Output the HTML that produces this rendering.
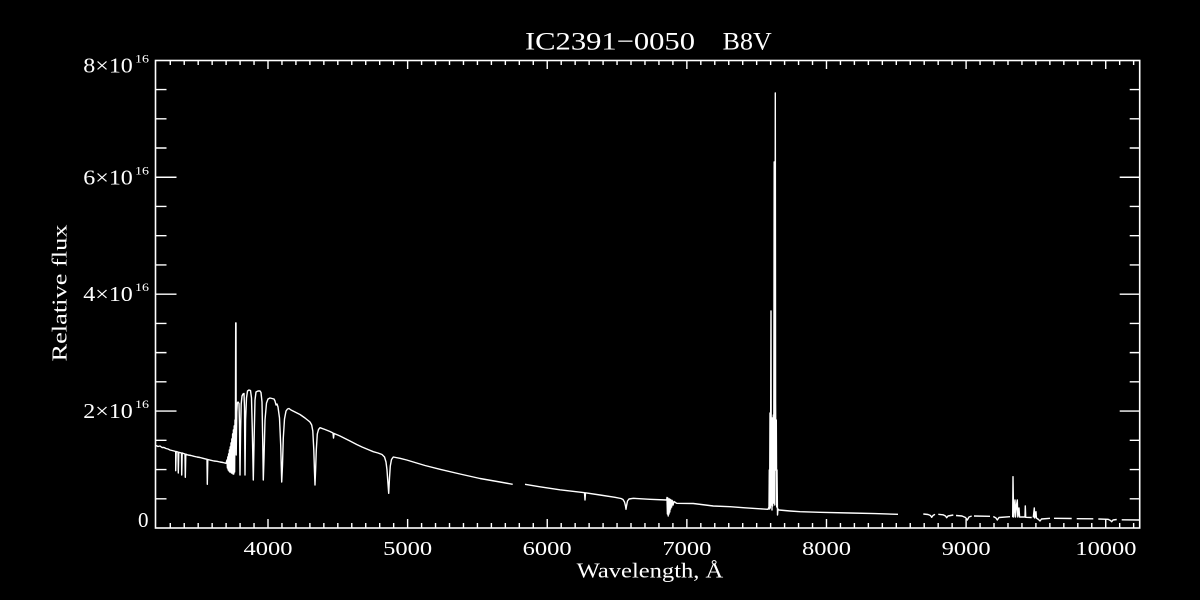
<!DOCTYPE html>
<html>
<head>
<meta charset="utf-8">
<style>
html,body{margin:0;padding:0;background:#000;}
svg{display:block;}
text{fill:#fff;font-family:"Liberation Serif",serif;}
</style>
</head>
<body>
<svg width="1200" height="600" viewBox="0 0 1200 600" xmlns="http://www.w3.org/2000/svg">
<rect x="0" y="0" width="1200" height="600" fill="#000"/>

<!-- title -->
<text x="525" y="49.3" font-size="25" textLength="170" lengthAdjust="spacingAndGlyphs">IC2391−0050</text>
<text x="722.7" y="49.3" font-size="25" textLength="49" lengthAdjust="spacingAndGlyphs">B8V</text>

<!-- axis box -->
<rect x="155.5" y="60.5" width="984.2" height="467.5" fill="none" stroke="#fff" stroke-width="1.6"/>

<!-- x ticks bottom/top -->
<path fill="none" stroke="#fff" stroke-width="1.4" d="
M170.27,528v-5 M184.23,528v-5 M198.19,528v-5 M212.15,528v-5 M226.11,528v-5 M240.08,528v-5 M254.04,528v-5 M268,528v-9
M281.96,528v-5 M295.92,528v-5 M309.89,528v-5 M323.85,528v-5 M337.81,528v-5 M351.77,528v-5 M365.73,528v-5 M379.7,528v-5 M393.66,528v-5 M407.62,528v-9
M421.58,528v-5 M435.54,528v-5 M449.51,528v-5 M463.47,528v-5 M477.43,528v-5 M491.39,528v-5 M505.35,528v-5 M519.32,528v-5 M533.28,528v-5 M547.24,528v-9
M561.2,528v-5 M575.16,528v-5 M589.13,528v-5 M603.09,528v-5 M617.05,528v-5 M631.01,528v-5 M644.97,528v-5 M658.94,528v-5 M672.9,528v-5 M686.86,528v-9
M700.82,528v-5 M714.78,528v-5 M728.75,528v-5 M742.71,528v-5 M756.67,528v-5 M770.63,528v-5 M784.59,528v-5 M798.56,528v-5 M812.52,528v-5 M826.48,528v-9
M840.44,528v-5 M854.4,528v-5 M868.37,528v-5 M882.33,528v-5 M896.29,528v-5 M910.25,528v-5 M924.21,528v-5 M938.18,528v-5 M952.14,528v-5 M966.1,528v-9
M980.06,528v-5 M994.02,528v-5 M1007.99,528v-5 M1021.95,528v-5 M1035.91,528v-5 M1049.87,528v-5 M1063.83,528v-5 M1077.8,528v-5 M1091.76,528v-5 M1105.72,528v-9
M1119.68,528v-5 M1133.64,528v-5
M170.27,60.5v4.5 M184.23,60.5v4.5 M198.19,60.5v4.5 M212.15,60.5v4.5 M226.11,60.5v4.5 M240.08,60.5v4.5 M254.04,60.5v4.5 M268,60.5v8.5
M281.96,60.5v4.5 M295.92,60.5v4.5 M309.89,60.5v4.5 M323.85,60.5v4.5 M337.81,60.5v4.5 M351.77,60.5v4.5 M365.73,60.5v4.5 M379.7,60.5v4.5 M393.66,60.5v4.5 M407.62,60.5v8.5
M421.58,60.5v4.5 M435.54,60.5v4.5 M449.51,60.5v4.5 M463.47,60.5v4.5 M477.43,60.5v4.5 M491.39,60.5v4.5 M505.35,60.5v4.5 M519.32,60.5v4.5 M533.28,60.5v4.5 M547.24,60.5v8.5
M561.2,60.5v4.5 M575.16,60.5v4.5 M589.13,60.5v4.5 M603.09,60.5v4.5 M617.05,60.5v4.5 M631.01,60.5v4.5 M644.97,60.5v4.5 M658.94,60.5v4.5 M672.9,60.5v4.5 M686.86,60.5v8.5
M700.82,60.5v4.5 M714.78,60.5v4.5 M728.75,60.5v4.5 M742.71,60.5v4.5 M756.67,60.5v4.5 M770.63,60.5v4.5 M784.59,60.5v4.5 M798.56,60.5v4.5 M812.52,60.5v4.5 M826.48,60.5v8.5
M840.44,60.5v4.5 M854.4,60.5v4.5 M868.37,60.5v4.5 M882.33,60.5v4.5 M896.29,60.5v4.5 M910.25,60.5v4.5 M924.21,60.5v4.5 M938.18,60.5v4.5 M952.14,60.5v4.5 M966.1,60.5v8.5
M980.06,60.5v4.5 M994.02,60.5v4.5 M1007.99,60.5v4.5 M1021.95,60.5v4.5 M1035.91,60.5v4.5 M1049.87,60.5v4.5 M1063.83,60.5v4.5 M1077.8,60.5v4.5 M1091.76,60.5v4.5 M1105.72,60.5v8.5
M1119.68,60.5v4.5 M1133.64,60.5v4.5
"/>

<!-- y ticks left/right -->
<path fill="none" stroke="#fff" stroke-width="1.4" d="
M155.5,498.77h11 M155.5,469.54h11 M155.5,440.31h11 M155.5,411.08h21 M155.5,381.85h11 M155.5,352.62h11 M155.5,323.39h11 M155.5,294.16h21
M155.5,264.93h11 M155.5,235.7h11 M155.5,206.47h11 M155.5,177.24h21 M155.5,148.01h11 M155.5,118.78h11 M155.5,89.55h11
M1139.7,498.77h-10 M1139.7,469.54h-10 M1139.7,440.31h-10 M1139.7,411.08h-20 M1139.7,381.85h-10 M1139.7,352.62h-10 M1139.7,323.39h-10 M1139.7,294.16h-20
M1139.7,264.93h-10 M1139.7,235.7h-10 M1139.7,206.47h-10 M1139.7,177.24h-20 M1139.7,148.01h-10 M1139.7,118.78h-10 M1139.7,89.55h-10
"/>

<!-- x tick labels -->
<g font-size="20" text-anchor="middle">
<text x="268" y="555" textLength="49" lengthAdjust="spacingAndGlyphs">4000</text>
<text x="407.6" y="555" textLength="49" lengthAdjust="spacingAndGlyphs">5000</text>
<text x="547.2" y="555" textLength="49" lengthAdjust="spacingAndGlyphs">6000</text>
<text x="686.9" y="555" textLength="49" lengthAdjust="spacingAndGlyphs">7000</text>
<text x="826.5" y="555" textLength="49" lengthAdjust="spacingAndGlyphs">8000</text>
<text x="966.1" y="555" textLength="49" lengthAdjust="spacingAndGlyphs">9000</text>
<text x="1105.9" y="555" textLength="61" lengthAdjust="spacingAndGlyphs">10000</text>
</g>

<!-- y tick labels -->
<g font-size="21">
<text x="83.3" y="72.7" textLength="49.5" lengthAdjust="spacingAndGlyphs">8×10</text>
<text x="83.3" y="184.3" textLength="49.5" lengthAdjust="spacingAndGlyphs">6×10</text>
<text x="83.3" y="301.2" textLength="49.5" lengthAdjust="spacingAndGlyphs">4×10</text>
<text x="83.3" y="418" textLength="49.5" lengthAdjust="spacingAndGlyphs">2×10</text>
<text x="148.5" y="527" text-anchor="end">0</text>
</g>
<g font-size="12">
<text x="135" y="62.7" textLength="14" lengthAdjust="spacingAndGlyphs">16</text>
<text x="135" y="174.3" textLength="14" lengthAdjust="spacingAndGlyphs">16</text>
<text x="135" y="291.2" textLength="14" lengthAdjust="spacingAndGlyphs">16</text>
<text x="135" y="408" textLength="14" lengthAdjust="spacingAndGlyphs">16</text>
</g>

<!-- axis titles -->
<text x="650" y="577.7" font-size="21" text-anchor="middle" textLength="146.6" lengthAdjust="spacingAndGlyphs">Wavelength, Å</text>
<text transform="translate(66.7,293) rotate(-90)" x="0" y="0" font-size="21" text-anchor="middle" textLength="137" lengthAdjust="spacingAndGlyphs">Relative flux</text>

<!-- spectrum -->
<path fill="none" stroke="#fff" stroke-width="1.4" stroke-linejoin="round" d="
M156,445.5 L158,446.5 L160,446 L162,447.5 L164,447.5 L166,448.5 L168,449 L170,450 L172,450.5 L174,451 L175.7,451.5 L175.7,470.7 L176.2,451.5 L178,452 L178.3,473 L178.8,452.3 L181.5,453 L181.7,475 L182.2,453 L185,454 L185.3,477.3 L185.8,454.2 L188,455 L191,455.5 L194,456.3 L197,457 L200,457.5 L203,458.3 L207,459.3 L207.3,484.3 L207.8,459.5 L211,460.3 L214,461 L217,461.3 L220,462 L223,462.5 L226,463.3
L227,460 L227.4,468 L227.8,457 L228.2,470 L228.6,454 L229,471 L229.4,450 L229.8,472 L230.2,447 L230.6,472 L231,443 L231.4,473 L231.8,439 L232.2,473 L232.6,434 L233,474 L233.4,430 L233.8,474 L234.2,426 L234.6,472 L235,420 L235.4,440 L235.7,323 L236,323 L236.2,455 L236.8,412 L237.3,403 L238,402 L239,403.5 L239.5,425 L240,475 L240.6,430 L241.2,404 L242,396 L243,394 L244,393.5 L244.5,408 L245,475 L245.6,420 L246.5,398 L247.5,391 L249,390 L250.5,390.5 L251.5,398 L252.3,430 L253.3,480 L254.1,440 L255,400 L256,392 L258,391 L260,391 L261,392.5 L262,402 L262.7,440 L263.3,480 L264,458 L265,420 L266.5,403 L268,399 L270,398 L272,398.5 L274,399 L275,401 L276,405 L277,404 L278,407 L279.5,418 L280.7,445 L281.7,482 L282.5,465 L283.3,438 L284.5,419 L286,411 L287.5,409 L289,408.5 L291,410 L295,412 L300,414.5 L305,418 L310,422 L311.7,425 L312.8,431 L313.8,450 L314.5,472 L315,485 L315.6,470 L316.3,450 L317.3,434 L318.5,429.5 L320,427.7 L325,429.5 L330,431.5 L333,433 L333.5,438 L334.1,433.5 L340,436 L345,438.5 L350,441 L356.7,444.5 L362,447 L368,449.5 L373.3,451.7 L378,453 L382,454.5 L384.5,457 L386,462 L387,470 L387.7,480 L388.7,493.3 L389.5,478 L390.3,466 L391.5,459.5 L393.3,457 L400,458.3 L406.7,460 L415,462.5 L425,465.5 L440,469.3 L460,474 L480,478.5 L500,482 L512.7,484.3
M525,484.3 L540,486.8 L560,489.8 L584.5,492.7 L585,500 L585.5,492.8 L600,495 L615,497.3 L621,498.5 L623,499.5 L624.5,502 L625.5,506 L626,509.3 L626.5,506 L627.5,501 L629,499 L633.3,498.3 L650,499.3 L666.7,500 L667,497.5 L667.4,514 L667.8,498 L668.2,516 L668.6,499 L669,514 L669.4,499 L669.8,512 L670.2,499.5 L670.6,509 L671,500 L671.6,507 L672.2,500.5 L673,505 L674,501.5 L676.7,503.3 L693.3,503.5 L713.3,506 L730,506.7 L745,507.8 L760,508.8 L768,509.3
L769,507 L769.3,470 L769.6,509 L770,413 L770.3,508 L770.6,440 L771,311 L771.3,505 L771.6,430 L772,510 L772.3,418 L772.6,506 L773,435 L773.3,415 L773.7,503 L774.2,162 L774.5,420 L774.8,505 L775.3,93 L775.6,402 L776,470 L776.3,420 L776.7,507 L777,470 L777.5,515 L778,509 L779,510 L790,511 L800,511.7 L820,512.3 L850,513 L875,513.6 L898,514.3
M923.3,514 L928,514.5 L930.5,515.5 L931.7,517.3 L933,515.5 L935,514.3
M938.3,514.3 L943,514.8 L945.5,516 L946.7,517.7 L948,516 L953.3,515
M956,515.5 L962,516 L965.5,517.5 L967.3,520 L969,517 L971.7,516
M974,516 L990,516.3
M993.3,516.5 L996,518 L997.3,520 L999,517.5 L1010,516.7
M1012.7,517.3 L1013,476.7 L1013.6,517 L1014.5,505 L1015,500 L1015.5,517 L1016.5,505 L1017.3,500 L1017.8,517 L1019,508 L1019.6,517 L1025,517 L1025.3,506 L1025.7,517.3 L1031.7,517.5
M1033.3,517.5 L1034.3,508 L1034.7,518 L1036,511.7 L1036.4,518 L1038.5,519.5 L1040,521 L1041.5,519 L1050,518.3
M1054,518.3 L1071.7,518.5
M1076.7,518.7 L1093.3,518.8
M1098.3,519 L1108,519.3 L1110.5,520.5 L1111.7,521.7 L1113,520 L1116.7,519.5
M1121.7,519.8 L1139.5,520
"/>
</svg>
</body>
</html>
